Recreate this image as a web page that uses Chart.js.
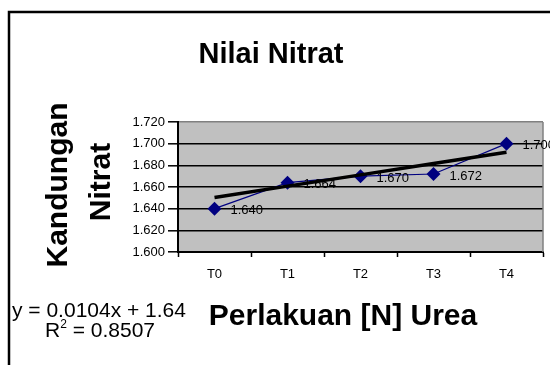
<!DOCTYPE html>
<html>
<head>
<meta charset="utf-8">
<script src="https://cdn.jsdelivr.net/npm/chart.js@4/dist/chart.umd.min.js"></script>
<style>
  html, body { margin: 0; padding: 0; background: #fff; }
  #wrap { width: 550px; height: 365px; position: relative; }
</style>
</head>
<body>
<div id="wrap"><canvas id="c" width="550" height="365"></canvas></div>
<script>
const categories = ['T0', 'T1', 'T2', 'T3', 'T4'];
const nitrat = [1.640, 1.664, 1.670, 1.672, 1.700];
const trendValues = [1.6504, 1.6608, 1.6712, 1.6816, 1.6920];
const yTicks = [1.600, 1.620, 1.640, 1.660, 1.680, 1.700, 1.720];
const chartTitle = 'Nilai Nitrat';
const xTitle = 'Perlakuan [N] Urea';
const yTitleLines = ['Kandungan', 'Nitrat'];
const equationLine = 'y = 0.0104x + 1.64';
const r2Value = '0.8507';

const FONT = '"Liberation Sans", Arial, sans-serif';

const decorPlugin = {
  id: 'decor',
  beforeDatasetsDraw(chart) {
    const { ctx, chartArea: a } = chart;
    ctx.save();
    ctx.strokeStyle = '#808080';
    ctx.lineWidth = 1.5;
    ctx.beginPath();
    ctx.moveTo(a.right, a.top);
    ctx.lineTo(a.right, a.bottom);
    ctx.stroke();
    ctx.restore();
  },
  beforeDraw(chart) {
    const { ctx, chartArea: a } = chart;
    ctx.save();
    ctx.fillStyle = '#ffffff';
    ctx.fillRect(0, 0, chart.width, chart.height);
    ctx.fillStyle = '#C0C0C0';
    ctx.fillRect(a.left, a.top, a.right - a.left, a.bottom - a.top);
    ctx.restore();
  },
  afterDraw(chart) {
    const { ctx } = chart;
    ctx.save();
    // frame
    ctx.strokeStyle = '#000';
    ctx.lineWidth = 2.5;
    ctx.beginPath();
    ctx.moveTo(9, 370);
    ctx.lineTo(9, 12);
    ctx.lineTo(556, 12);
    ctx.stroke();

    ctx.fillStyle = '#000';
    // title
    ctx.font = 'bold 29px ' + FONT;
    ctx.textAlign = 'center';
    ctx.textBaseline = 'alphabetic';
    ctx.fillText(chartTitle, 271, 63);
    // x title
    ctx.font = 'bold 30px ' + FONT;
    ctx.fillText(xTitle, 343, 325);
    // y title
    ctx.font = 'bold 30px ' + FONT;
    const yPos = [[67, 185], [110, 182]];
    yTitleLines.forEach((t, i) => {
      ctx.save();
      ctx.translate(yPos[i][0], yPos[i][1]);
      ctx.rotate(-Math.PI / 2);
      ctx.fillText(t, 0, 0);
      ctx.restore();
    });
    // equation
    ctx.textAlign = 'left';
    ctx.font = '21px ' + FONT;
    ctx.fillText(equationLine, 12, 317);
    let x = 45;
    ctx.fillText('R', x, 337);
    x += ctx.measureText('R').width;
    ctx.font = '12px ' + FONT;
    ctx.fillText('2', x, 328);
    x += ctx.measureText('2').width;
    ctx.font = '21px ' + FONT;
    ctx.fillText(' = ' + r2Value, x, 337);

    // data labels
    const meta = chart.getDatasetMeta(0);
    ctx.font = '13px ' + FONT;
    ctx.textBaseline = 'middle';
    meta.data.forEach((pt, i) => {
      ctx.fillText(nitrat[i].toFixed(3), pt.x + 16, pt.y + 2);
    });
    ctx.restore();
  }
};

new Chart(document.getElementById('c'), {
  type: 'line',
  data: {
    labels: categories,
    datasets: [
      {
        label: 'Nitrat',
        data: nitrat,
        borderColor: '#000080',
        backgroundColor: '#000080',
        borderWidth: 1.2,
        pointStyle: 'rectRot',
        pointRadius: 7,
        pointBorderWidth: 0,
        tension: 0,
        order: 1
      },
      {
        label: 'Trend',
        data: trendValues,
        borderColor: '#000000',
        borderWidth: 3.5,
        pointRadius: 0,
        tension: 0,
        order: 0
      }
    ]
  },
  options: {
    responsive: false,
    animation: false,
    devicePixelRatio: 1,
    layout: { padding: { top: 122, right: 7, left: 0, bottom: 0 } },
    plugins: {
      legend: { display: false },
      tooltip: { enabled: false },
      title: { display: false }
    },
    scales: {
      x: {
        offset: true,
        grid: {
          offset: true,
          drawOnChartArea: false,
          drawTicks: true,
          tickLength: 5,
          tickColor: '#000',
          tickWidth: 1.5
        },
        border: { color: '#000', width: 2 },
        ticks: { color: '#000', font: { family: FONT, size: 13 }, padding: 10 },
        afterFit(s) { s.height = 113; }
      },
      y: {
        min: 1.6,
        max: 1.72,
        afterBuildTicks(s) { s.ticks = yTicks.map(v => ({ value: v })); },
        grid: {
          color: (c) => (c.tick && Math.abs(c.tick.value - 1.72) < 1e-9) ? '#808080' : '#000',
          lineWidth: 1.6,
          tickLength: 10,
          tickColor: '#000',
          tickWidth: 1.5
        },
        border: { color: '#000', width: 2 },
        ticks: {
          color: '#000',
          font: { family: FONT, size: 13 },
          padding: 3,
          callback: (v) => Number(v).toFixed(3)
        },
        afterFit(s) { s.width = 178; }
      }
    }
  },
  plugins: [decorPlugin]
});
</script>
</body>
</html>
